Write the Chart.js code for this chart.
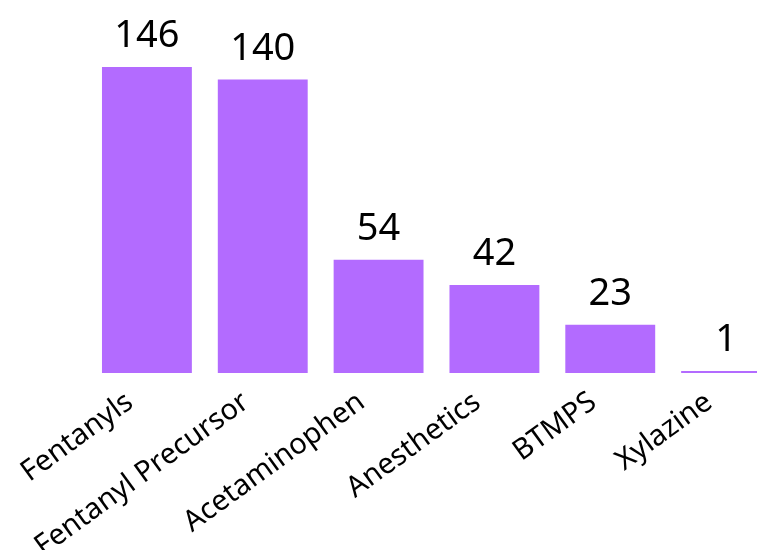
<!DOCTYPE html>
<html>
<head>
<meta charset="utf-8">
<script src="https://cdn.jsdelivr.net/npm/chart.js@4"></script>
<style>
  html, body { margin: 0; padding: 0; background: #fff; overflow: hidden; }
  #wrap { position: absolute; left: 0; top: 0; width: 800px; height: 550px; }
</style>
</head>
<body>
<div id="wrap"><canvas id="myChart"></canvas></div>
<script>
var categorias = ['Fentanyls', 'Fentanyl Precursor', 'Acetaminophen', 'Anesthetics', 'BTMPS', 'Xylazine'];
var valores = [146, 140, 54, 42, 23, 1];

// etiquetas de valor encima de cada barra
var etiquetas = {
    id: 'etiquetas',
    afterDatasetsDraw: function(chart){
        var ctx = chart.ctx;
        var meta = chart.getDatasetMeta(0);
        ctx.save();
        ctx.font = '38px "Noto Sans"';
        ctx.fillStyle = '#000';
        ctx.textAlign = 'center';
        ctx.textBaseline = 'alphabetic';
        meta.data.forEach(function(bar, i){
            ctx.fillText(valores[i], bar.x, bar.y - 20);
        });
        ctx.restore();
    }
};

var ctx = document.getElementById('myChart').getContext('2d');
var chart = new Chart(ctx, {
    type: 'bar',
    data: {
        labels: categorias,
        datasets: [{
            data: valores,
            backgroundColor: '#b36bff',
            borderWidth: 0,
            categoryPercentage: 1,
            barPercentage: 0.776
        }]
    },
    options: {
        responsive: true,
        maintainAspectRatio: false,
        animation: false,
        layout: { padding: { top: 67, left: 89, right: 16, bottom: 0 } },
        plugins: { legend: { display: false }, tooltip: { enabled: false } },
        scales: {
            x: {
                grid: { display: false, drawTicks: false },
                border: { display: false },
                afterFit: function(scale){
                    scale.height = 177;
                    scale.paddingLeft = 0;
                    scale.paddingRight = 0;
                },
                ticks: {
                    color: '#000',
                    font: { family: 'Noto Sans', size: 29 },
                    minRotation: 36,
                    maxRotation: 36,
                    padding: 12,
                    labelOffset: -17,
                    autoSkip: false
                }
            },
            y: {
                display: false,
                min: 0,
                max: 146
            }
        }
    },
    plugins: [etiquetas]
});
</script>
</body>
</html>
